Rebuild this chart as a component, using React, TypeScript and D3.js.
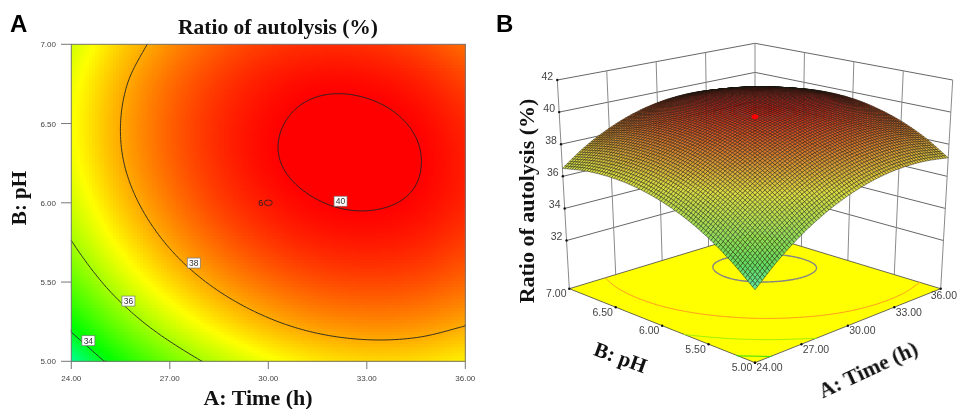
import React, { useMemo } from "react";
import * as d3 from "d3";

const timeNodes = [24, 25.5, 27, 28.5, 30, 31.5, 33, 34.5, 36];
const phNodes = [5, 5.25, 5.5, 5.75, 6, 6.25, 6.5, 6.75, 7];
const ratioPH500 = [33.15, 34.4, 35.44, 36.26, 36.87, 37.27, 37.45, 37.41, 37.16];
const ratioPH525 = [34.29, 35.52, 36.53, 37.33, 37.91, 38.28, 38.43, 38.37, 38.09];
const ratioPH550 = [35.24, 36.44, 37.42, 38.18, 38.72, 39.06, 39.18, 39.1, 38.8];
const ratioPH575 = [35.97, 37.14, 38.09, 38.82, 39.33, 39.63, 39.72, 39.62, 39.29];
const ratioPH600 = [36.49, 37.64, 38.55, 39.25, 39.72, 39.98, 40.05, 39.93, 39.59];
const ratioPH625 = [36.81, 37.93, 38.81, 39.47, 39.92, 40.15, 40.18, 40.03, 39.67];
const ratioPH650 = [36.91, 38.0, 38.86, 39.5, 39.91, 40.12, 40.13, 39.95, 39.56];
const ratioPH675 = [36.81, 37.87, 38.71, 39.32, 39.72, 39.91, 39.89, 39.68, 39.25];
const ratioPH700 = [36.5, 37.54, 38.34, 38.94, 39.32, 39.48, 39.44, 39.2, 38.73];
const ratioRows = [ratioPH500, ratioPH525, ratioPH550, ratioPH575, ratioPH600, ratioPH625, ratioPH650, ratioPH675, ratioPH700];

const timeTicks = [24, 27, 30, 33, 36];
const phTicks = [5, 5.5, 6, 6.5, 7];
const ratioTicks = [32, 34, 36, 38, 40, 42];
const contourLevels = [34, 36, 38, 40];
const contourLabels: [number, number, number][] = [
  [34, 24.52, 5.13],
  [36, 25.74, 5.38],
  [38, 27.73, 5.62],
  [40, 32.2, 6.01],
];
const floorLevelColors = ["#22e000", "#9cf000", "#ff9a22", "#858585"];
const centerPoint = { time: 30, ph: 6, ratio: 39.8, count: "6" };
const ratioColorStops = [32.4, 34.2, 37, 40];
const ratioColors = ["#00ffff", "#00ff00", "#ffff00", "#ff0000"];
const surfaceColors = ["#5ce8c8", "#62dc62", "#dcdc40", "#d01c14"];

const SERIF = "'Liberation Serif', serif";
const SANS = "'Liberation Sans', sans-serif";

const cr = (a: number, b: number, c: number, d: number, t: number) =>
  0.5 * (2 * b + (c - a) * t + (2 * a - 5 * b + 4 * c - d) * t * t + (3 * b - a - 3 * c + d) * t * t * t);
const tIdx = d3.scaleLinear().domain([24, 36]).range([0, timeNodes.length - 1]).clamp(true);
const pIdx = d3.scaleLinear().domain([5, 7]).range([0, phNodes.length - 1]).clamp(true);

// a table value, continued past the table's edge along the last difference
function tableAt(jj: number, ii: number) {
  const nj = phNodes.length - 1;
  const ni = timeNodes.length - 1;
  const cj = Math.max(0, Math.min(nj, jj));
  const ci = Math.max(0, Math.min(ni, ii));
  let v = ratioRows[cj][ci];
  if (jj < 0) v += -jj * (ratioRows[0][ci] - ratioRows[1][ci]);
  if (jj > nj) v += (jj - nj) * (ratioRows[nj][ci] - ratioRows[nj - 1][ci]);
  if (ii < 0) v += -ii * (ratioRows[cj][0] - ratioRows[cj][1]);
  if (ii > ni) v += (ii - ni) * (ratioRows[cj][ni] - ratioRows[cj][ni - 1]);
  return v;
}

function ratioAt(time: number, ph: number) {
  const fi = tIdx(time);
  const fj = pIdx(ph);
  const i = Math.min(Math.floor(fi), timeNodes.length - 2);
  const j = Math.min(Math.floor(fj), phNodes.length - 2);
  const rows = [-1, 0, 1, 2].map((dj) =>
    cr(tableAt(j + dj, i - 1), tableAt(j + dj, i), tableAt(j + dj, i + 1), tableAt(j + dj, i + 2), fi - i)
  );
  return cr(rows[0], rows[1], rows[2], rows[3], fj - j);
}

// contour lines from the sampled field, without the parts along its border
const NX = 145;
const NY = 121;
function contourSegments(level: number): [number, number][][] {
  const values: number[] = [];
  for (let j = 0; j < NY; j++)
    for (let i = 0; i < NX; i++) values.push(ratioAt(24 + (12 * i) / (NX - 1), 5 + (2 * j) / (NY - 1)));
  const toT = d3.scaleLinear().domain([0.5, NX - 0.5]).range([24, 36]).clamp(true);
  const toP = d3.scaleLinear().domain([0.5, NY - 0.5]).range([5, 7]).clamp(true);
  const onB = (p: number[]) => p[0] <= 0 || p[0] >= NX || p[1] <= 0 || p[1] >= NY;
  const shape = d3.contours().size([NX, NY]).thresholds([level])(values)[0];
  const out: [number, number][][] = [];
  for (const poly of shape.coordinates)
    for (const ring of poly) {
      const open = ring.slice(0, -1);
      const k = open.findIndex(onB);
      const pts = k < 0 ? ring : [...open.slice(k), ...open.slice(0, k), open[k]];
      let cur: number[][] = [];
      for (const p of pts) {
        if (cur.length && onB(cur[cur.length - 1]) && onB(p)) {
          if (cur.length > 1) out.push(cur.map((q) => [toT(q[0]), toP(q[1])]));
          cur = [p];
        } else cur.push(p);
      }
      if (cur.length > 1) out.push(cur.map((q) => [toT(q[0]), toP(q[1])]));
    }
  return out;
}

// Panel A scales
const xA = d3.scaleLinear().domain([24, 36]).range([71.3, 465.3]);
const yA = d3.scaleLinear().domain([5, 7]).range([361.3, 44.3]);
const colorA = d3.scaleLinear<string>().domain(ratioColorStops).range(ratioColors).clamp(true);
const colorB = d3.scaleLinear<string>().domain(ratioColorStops).range(surfaceColors).clamp(true);

// Panel B oblique view
const uS = d3.scaleLinear().domain([24, 36]).range([0, 1]);
const vS = d3.scaleLinear().domain([5, 7]).range([0, 1]);
const wS = d3.scaleLinear().domain([29, 42]).range([0, 1]);
function project(time: number, ph: number, ratio: number): [number, number] {
  const u = uS(time);
  const v = vS(ph);
  const w = wS(ratio);
  const X = 755 + (u - v) * (185.7 + 12 * w);
  const base = 362.7 - 74 * (u + v) + 17.6 * u * v - 48 * u * (1 - u) * v * (1 - v);
  const h = 228.4 - 19.7 * (u + v);
  return [X, base - h * w];
}
const MESH = 78;

export default function App() {
  const heat = useMemo(() => {
    const step = 3;
    const out: { x: number; y: number; w: number; h: number; c: string }[] = [];
    const [x0, x1] = xA.range();
    const [y1, y0] = yA.range();
    for (let x = x0; x < x1; x += step)
      for (let y = y0; y < y1; y += step) {
        const w = Math.min(step, x1 - x);
        const h = Math.min(step, y1 - y);
        out.push({ x, y, w, h, c: colorA(ratioAt(xA.invert(x + w / 2), yA.invert(y + h / 2))) });
      }
    return out;
  }, []);
  const segs = useMemo(() => contourLevels.map(contourSegments), []);
  const cells = useMemo(() => {
    const out: { d: string; c: string }[] = [];
    const tAt = d3.scaleLinear().domain([0, MESH]).range([24, 36]);
    const pAt = d3.scaleLinear().domain([0, MESH]).range([5, 7]);
    for (let i = MESH - 1; i >= 0; i--)
      for (let j = MESH - 1; j >= 0; j--) {
        const corners: [number, number][] = [[i, j], [i + 1, j], [i + 1, j + 1], [i, j + 1]];
        const zs = corners.map(([a, b]) => ratioAt(tAt(a), pAt(b)));
        const pts = corners.map(([a, b], k) => project(tAt(a), pAt(b), zs[k]));
        out.push({ d: "M" + pts.map((p) => p[0].toFixed(2) + "," + p[1].toFixed(2)).join("L") + "Z", c: colorB(d3.mean(zs)!) });
      }
    return out;
  }, []);

  const lineA = d3.line<[number, number]>().x((d) => xA(d[0])).y((d) => yA(d[1]));
  const lineFloor = d3.line<[number, number]>()
    .x((d) => project(d[0], d[1], 29)[0])
    .y((d) => project(d[0], d[1], 29)[1]);
  const wall = (a: [number, number, number], b: [number, number, number]) => {
    const p = project(...a);
    const q = project(...b);
    return `M${p[0]},${p[1]}L${q[0]},${q[1]}`;
  };
  const floorPath = [project(24, 5, 29), project(36, 5, 29), project(36, 7, 29), project(24, 7, 29)]
    .map((p) => p.join(","))
    .join(" ");
  const dot = project(centerPoint.time, centerPoint.ph, centerPoint.ratio);
  const GRID = "#8a8a8a";

  return (
    <svg width={958} height={409} viewBox="0 0 958 409" style={{ position: "absolute", left: 0, top: 0 }}>
      <defs>
        <filter id="soft" x="0" y="0" width="100%" height="100%" colorInterpolationFilters="sRGB">
          <feGaussianBlur stdDeviation="0.55" />
        </filter>
      </defs>
      <rect width={958} height={409} fill="#fff" />
      <g filter="url(#soft)">
        {/* Panel A */}
        <g shapeRendering="crispEdges">
          {heat.map((r, i) => (
            <rect key={i} x={r.x} y={r.y} width={r.w + 0.4} height={r.h + 0.4} fill={r.c} />
          ))}
        </g>
        {segs.map((ss, k) =>
          ss.map((s, i) => <path key={k + "-" + i} d={lineA(s)!} fill="none" stroke="#222" strokeWidth={0.9} />)
        )}
        <rect x={71.3} y={44.3} width={394} height={317} fill="none" stroke="#777" strokeWidth={1} />
        {timeTicks.map((t) => (
          <g key={t}>
            <line x1={xA(t)} x2={xA(t)} y1={361.3} y2={369} stroke="#777" />
            <text x={xA(t)} y={381} fontFamily={SANS} fontSize={8} fill="#444" textAnchor="middle">
              {t.toFixed(2)}
            </text>
          </g>
        ))}
        {phTicks.map((p) => (
          <g key={p}>
            <line x1={61} x2={71.3} y1={yA(p)} y2={yA(p)} stroke="#777" />
            <text x={56} y={yA(p) + 3} fontFamily={SANS} fontSize={8} fill="#444" textAnchor="end">
              {p.toFixed(2)}
            </text>
          </g>
        ))}
        {contourLabels.map(([lv, t, p]) => (
          <g key={lv}>
            <rect x={xA(t) - 6.5} y={yA(p) - 5} width={13} height={10} fill="#fff" stroke="#777" strokeWidth={0.7} />
            <text x={xA(t)} y={yA(p) + 3} fontFamily={SANS} fontSize={8.5} fill="#333" textAnchor="middle">
              {lv}
            </text>
          </g>
        ))}
        <ellipse cx={xA(centerPoint.time)} cy={yA(centerPoint.ph)} rx={4} ry={2.8} fill="none" stroke="#222" strokeWidth={0.8} />
        <text x={xA(centerPoint.time) - 5} y={yA(centerPoint.ph) + 3} fontFamily={SANS} fontSize={9} fill="#222" textAnchor="end">
          {centerPoint.count}
        </text>
        <text x={278} y={34} fontFamily={SERIF} fontWeight="bold" fontSize={21.5} textAnchor="middle" fill="#111">
          Ratio of autolysis (%)
        </text>
        <text x={258} y={405} fontFamily={SERIF} fontWeight="bold" fontSize={22} textAnchor="middle" fill="#111">
          A: Time (h)
        </text>
        <text transform="translate(26,198) rotate(-90)" fontFamily={SERIF} fontWeight="bold" fontSize={21} textAnchor="middle" fill="#111">
          B: pH
        </text>
        <text x={10} y={32} fontFamily={SANS} fontWeight="bold" fontSize={24} fill="#000">
          A
        </text>

        {/* Panel B walls */}
        <g stroke={GRID} strokeWidth={1} fill="none">
          {ratioTicks.map((z) => (
            <path key={z} d={wall([24, 7, z], [36, 7, z]) + wall([36, 7, z], [36, 5, z])} stroke="#666" />
          ))}
          {timeTicks.map((t) => (
            <path key={t} d={wall([t, 7, 29], [t, 7, 42])} />
          ))}
          {phTicks.slice(0, -1).map((p) => (
            <path key={p} d={wall([36, p, 29], [36, p, 42])} />
          ))}
        </g>
        <polygon points={floorPath} fill="#ffff00" stroke="#444" strokeWidth={0.8} />
        {segs.map((ss, k) =>
          ss.map((s, i) => (
            <path key={k + "f" + i} d={lineFloor(s)!} fill="none" stroke={floorLevelColors[k]} strokeWidth={k === 3 ? 1.4 : 1} />
          ))
        )}
        <g stroke="#14160f" strokeOpacity={0.72} strokeWidth={0.6} strokeLinejoin="round">
          {cells.map((c, i) => (
            <path key={i} d={c.d} fill={c.c} />
          ))}
        </g>
        <ellipse cx={dot[0]} cy={dot[1]} rx={3.4} ry={2.4} fill="#ff0000" />
        {ratioTicks.map((z) => {
          const p = project(24, 7, z);
          return (
            <g key={z}>
              <circle cx={p[0]} cy={p[1]} r={1.2} fill="#111" />
              <text x={p[0] - 10} y={p[1] - 0.5} fontFamily={SANS} fontSize={10.5} fill="#444" textAnchor="middle">
                {z}
              </text>
            </g>
          );
        })}
        {phTicks.map((ph) => {
          const p = project(24, ph, 29);
          return (
            <g key={ph}>
              <circle cx={p[0]} cy={p[1]} r={1.2} fill="#111" />
              <text x={p[0] - 13} y={p[1] + 8.5} fontFamily={SANS} fontSize={10.5} fill="#444" textAnchor="middle">
                {ph.toFixed(2)}
              </text>
            </g>
          );
        })}
        {timeTicks.map((t) => {
          const p = project(t, 5, 29);
          return (
            <g key={t}>
              <circle cx={p[0]} cy={p[1]} r={1.2} fill="#111" />
              <text
                x={t === 36 ? 957 : p[0] + 14.5}
                y={p[1] + (t === 36 ? 10.5 : 8.5)}
                fontFamily={SANS}
                fontSize={10.5}
                fill="#444"
                textAnchor={t === 36 ? "end" : "middle"}
              >
                {t.toFixed(2)}
              </text>
            </g>
          );
        })}
        <text transform="translate(534,201) rotate(-90)" fontFamily={SERIF} fontWeight="bold" fontSize={22} textAnchor="middle" fill="#111">
          Ratio of autolysis (%)
        </text>
        <text transform="translate(618,364) rotate(20)" fontFamily={SERIF} fontWeight="bold" fontSize={21} textAnchor="middle" fill="#111">
          B: pH
        </text>
        <text transform="translate(871,376) rotate(-25)" fontFamily={SERIF} fontWeight="bold" fontSize={21.5} textAnchor="middle" fill="#111">
          A: Time (h)
        </text>
        <text x={496} y={32} fontFamily={SANS} fontWeight="bold" fontSize={24} fill="#000">
          B
        </text>
      </g>
    </svg>
  );
}
